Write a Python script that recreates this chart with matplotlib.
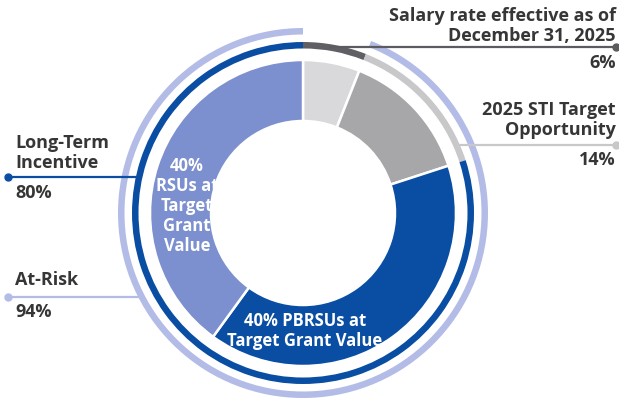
import matplotlib
matplotlib.use("Agg")
import matplotlib.pyplot as plt
import numpy as np

# Pay mix components (percent of total target compensation)
components = ["Salary", "STI", "PBRSUs", "RSUs"]
mix_values = [6, 14, 40, 40]
mix_colors = ["#d9d9db", "#a7a7a9", "#0a4ea3", "#7c8fcf"]

# Grouping rings
salary_pct = 6
sti_pct = 14
lti_pct = 80
at_risk_pct = 94

text_dark = "#363636"
font = "Open Sans"

W, H = 619, 405
fig = plt.figure(figsize=(W / 100, H / 100), dpi=100)
ax = fig.add_axes([0, 0, 1, 1])

cx, cy = 303, 213
r_outer, r_hole = 153, 92

# Main donut: starts at 12 o'clock, runs clockwise on screen (y axis inverted below)
ax.pie(mix_values, colors=mix_colors, radius=r_outer, center=(cx, cy),
       startangle=-90, counterclock=True,
       wedgeprops=dict(width=r_outer - r_hole, edgecolor="white", linewidth=1.8),
       frame=True)

# Middle ring: salary / STI / LTI
ax.pie([salary_pct, sti_pct, lti_pct], colors=["#606064", "#c8c8ca", "#0a4ea3"],
       radius=171, center=(cx, cy), startangle=-90, counterclock=True,
       wedgeprops=dict(width=6.5, linewidth=0), frame=True)

# Outer ring: at-risk pay
ax.pie([salary_pct, at_risk_pct], colors=["none", "#b3bce6"],
       radius=185, center=(cx, cy), startangle=-90, counterclock=True,
       wedgeprops=dict(width=6.5, linewidth=0), frame=True)

ax.set_xlim(0, W)
ax.set_ylim(H, 0)
ax.set_aspect("equal")
ax.axis("off")


def ring_x(y, r, side):
    dy = y - cy
    return cx + side * np.sqrt(max(r * r - dy * dy, 0))


# Callout lines with end dots
def callout(y, x0, x1, color, dot_x):
    ax.plot([x0, x1], [y, y], color=color, lw=1.6, solid_capstyle="butt", zorder=1)
    ax.plot([dot_x], [y], marker="o", ms=5, color=color, zorder=2)


callout(47, ring_x(47, 168, 1), 616, "#5c5c60", 616)
callout(145, ring_x(145, 168, 1), 616, "#c8c8ca", 616)
callout(177, 8, ring_x(177, 168, -1), "#0a4ea3", 8)
callout(297, 8, ring_x(297, 182, -1), "#b3bce6", 8)

fs = 13
kw = dict(fontfamily=font, fontweight="bold", color=text_dark, fontsize=fs)

# Right-side labels
ax.text(616, 26, "Salary rate effective as of\nDecember 31, 2025", ha="right", va="center",
        linespacing=1.17, **kw)
ax.text(616, 63, f"{salary_pct}%", ha="right", va="center", **kw)
ax.text(616, 120, "2025 STI Target\nOpportunity", ha="right", va="center",
        linespacing=1.17, **kw)
ax.text(616, 160, f"{sti_pct}%", ha="right", va="center", **kw)

# Left-side labels
ax.text(15, 153, "Long-Term\nIncentive", ha="left", va="center", linespacing=1.17, **kw)
ax.text(15, 193, f"{lti_pct}%", ha="left", va="center", **kw)
ax.text(15, 280, "At-Risk", ha="left", va="center", **kw)
ax.text(15, 312, f"{at_risk_pct}%", ha="left", va="center", **kw)

# In-wedge labels
wkw = dict(fontfamily=font, fontweight="bold", color="white", fontsize=12)
ax.text(187, 206, f"{mix_values[3]}%\nRSUs at\nTarget\nGrant\nValue", ha="center", va="center",
        linespacing=1.15, **wkw)
ax.text(305, 331, f"{mix_values[2]}% PBRSUs at\nTarget Grant Value", ha="center", va="center",
        linespacing=1.15, **wkw)

fig.savefig("out.png", dpi=100)
